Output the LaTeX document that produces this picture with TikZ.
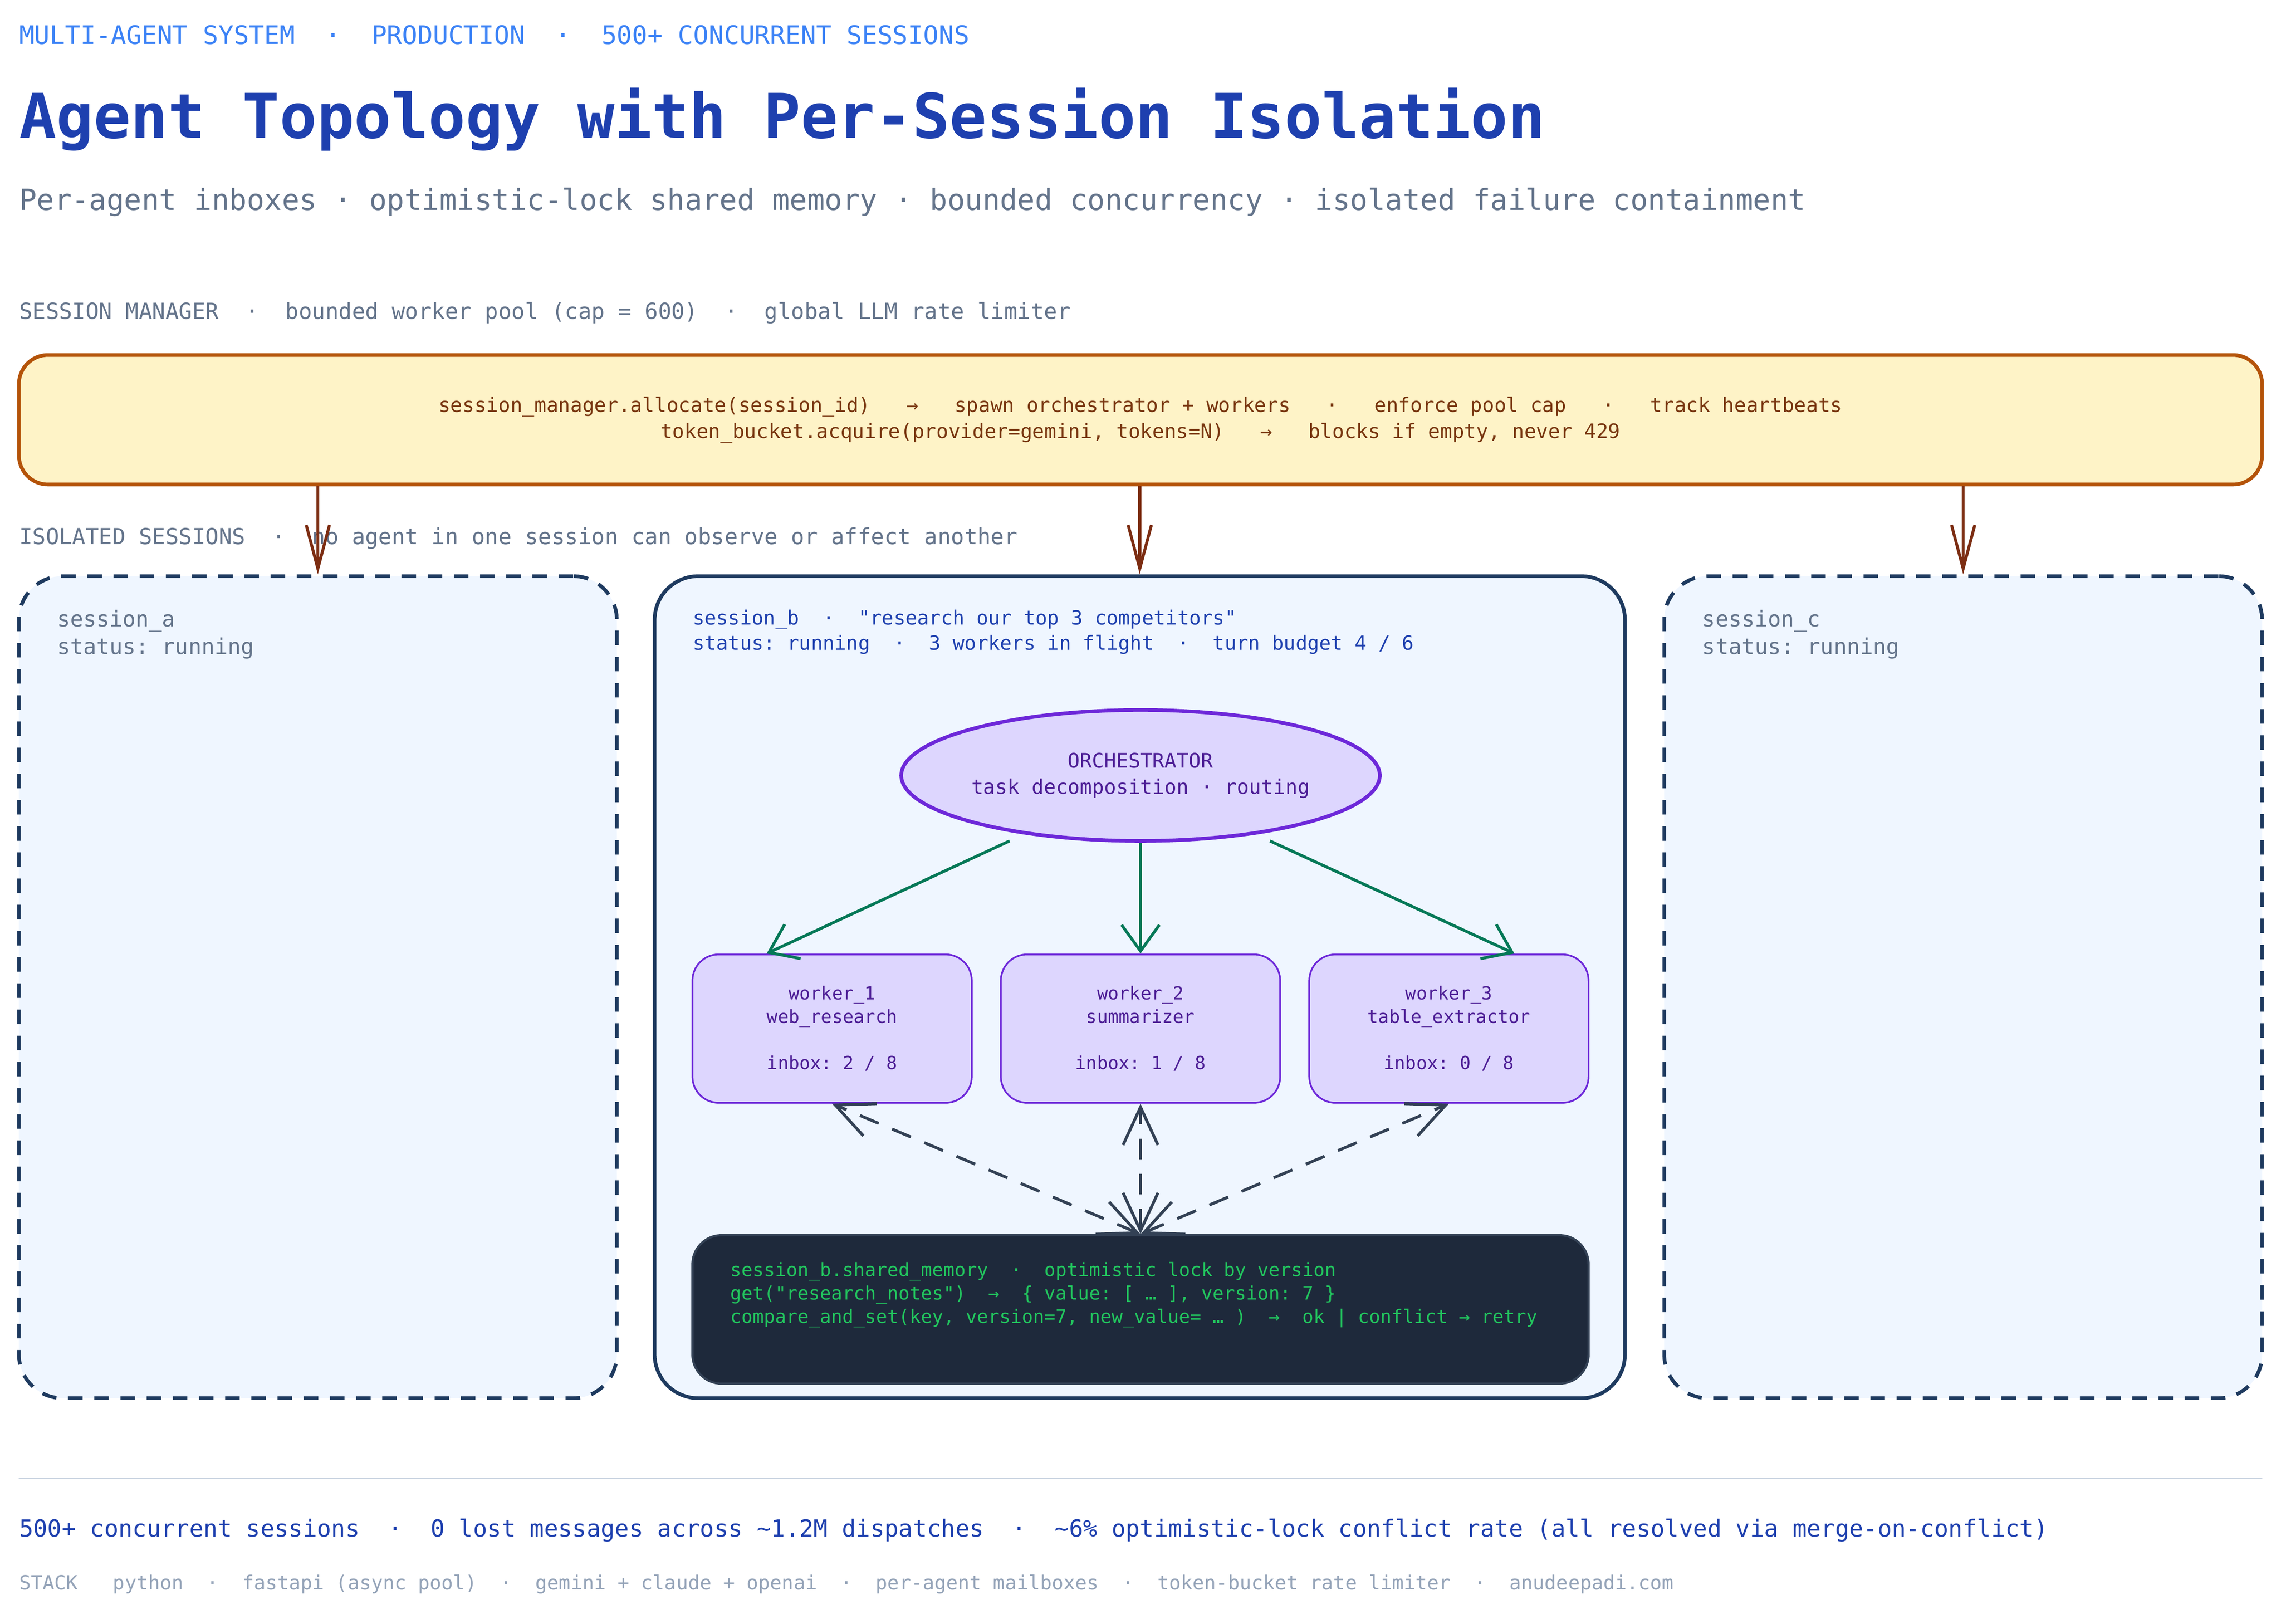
\documentclass[tikz,border=0pt]{standalone}
\usepackage{fontspec}
\setmonofont{DejaVu Sans Mono}
\usepackage{tikz}
\usetikzlibrary{arrows.meta, positioning, shapes.geometric, calc}
\definecolor{titleblue}{HTML}{1E40AF}
\definecolor{headblue}{HTML}{3B82F6}
\definecolor{slate}{HTML}{64748B}
\definecolor{mgrfill}{HTML}{FEF3C7}
\definecolor{mgrdraw}{HTML}{B45309}
\definecolor{mgrtext}{HTML}{78350F}
\definecolor{brown}{HTML}{7C2D12}
\definecolor{sessfill}{HTML}{EFF6FF}
\definecolor{sessdraw}{HTML}{1E3A5F}
\definecolor{purplefill}{HTML}{DDD6FE}
\definecolor{purpledraw}{HTML}{6D28D9}
\definecolor{purpletext}{HTML}{4C1D95}
\definecolor{flowgreen}{HTML}{047857}
\definecolor{dashgray}{HTML}{334155}
\definecolor{memfill}{HTML}{1E293B}
\definecolor{memtext}{HTML}{22C55E}
\definecolor{rulegray}{HTML}{CBD5E1}
\definecolor{stackgray}{HTML}{94A3B8}
\newcommand{\fsz}[2]{\fontsize{#1}{#2}\selectfont\ttfamily}
\tikzset{x=1pt, y=-1pt,
    textnode/.style={inner sep=0pt, anchor=west, align=left},
    manager/.style={draw=mgrdraw, fill=mgrfill, line width=2.5pt, rounded corners=20pt,
        minimum width=1542pt, minimum height=89pt, inner sep=0pt, text=mgrtext, align=center},
    session/.style={draw=sessdraw, fill=sessfill, line width=2.5pt, rounded corners=30pt,
        minimum height=565pt, inner sep=0pt},
    sessiondash/.style={session, minimum width=411pt, dash pattern=on 10pt off 8pt},
    worker/.style={draw=purpledraw, fill=purplefill, line width=1.2pt, rounded corners=18pt,
        minimum width=192pt, minimum height=102pt, inner sep=0pt, text=purpletext, align=center,
        font=\fsz{12.4}{16}},
    spawn/.style={draw=brown, line width=2pt, -{Straight Barb[length=30pt,width=16pt]}},
    route/.style={draw=flowgreen, line width=2pt, -{Straight Barb[length=18pt,width=26pt]}},
    shared/.style={draw=dashgray, line width=2pt, dash pattern=on 14pt off 10pt,
        {Straight Barb[length=26pt,width=24pt]}-{Straight Barb[length=26pt,width=24pt]}}}
\begin{document}
\begin{tikzpicture}
\useasboundingbox[fill=white] (0,0) rectangle (1568,1116);
% header
\node[textnode, text=headblue, font=\fsz{17.5}{20}] (head) at (13,24) {MULTI-AGENT SYSTEM~~·~~PRODUCTION~~·~~500+ CONCURRENT SESSIONS};
\node[textnode, text=titleblue, font=\fsz{42.5}{48}\bfseries] (title) at (13,82) {Agent Topology with Per-Session Isolation};
\node[textnode, text=slate, font=\fsz{20}{24}] (sub) at (13,139) {Per-agent inboxes · optimistic-lock shared memory · bounded concurrency · isolated failure containment};
% session manager
\node[textnode, text=slate, font=\fsz{15.2}{18}] (mgrlabel) at (13,215) {SESSION MANAGER~~·~~bounded worker pool (cap = 600)~~·~~global LLM rate limiter};
\node[manager, font=\fsz{13.7}{18}] (mgr) at (784,288.5) {session\_manager.allocate(session\_id)~~~→~~~spawn orchestrator + workers~~~·~~~enforce pool cap~~~·~~~track heartbeats\\
token\_bucket.acquire(provider=gemini, tokens=N)~~~→~~~blocks if empty, never 429};
\node[textnode, text=slate, font=\fsz{15.2}{18}] (isolabel) at (13,370) {ISOLATED SESSIONS~~·~~no agent in one session can observe or affect another};
% sessions
\node[sessiondash] (sa) at (218.5,678.5) {};
\node[session, minimum width=667pt] (sb) at (783.5,678.5) {};
\node[sessiondash] (sc) at (1349.5,678.5) {};
\node[textnode, text=slate, font=\fsz{15}{19}] (satext) at (39,436) {session\_a\\status: running};
\node[textnode, text=slate, font=\fsz{15}{19}] (sctext) at (1170,436) {session\_c\\status: running};
\node[textnode, text=titleblue, font=\fsz{13.5}{17.5}] (sbtext) at (476,434.5) {session\_b~~·~~"research our top 3 competitors"\\status: running~~·~~3 workers in flight~~·~~turn budget 4 / 6};
\draw[spawn] (mgr.south -| sa.north) -- (sa.north);
\draw[spawn] (mgr.south -| sb.north) -- (sb.north);
\draw[spawn] (mgr.south -| sc.north) -- (sc.north);
% orchestrator and workers
\node[ellipse, draw=purpledraw, fill=purplefill, line width=2.5pt, minimum width=282pt, minimum height=90pt,
    inner sep=0pt, text=purpletext, align=center, font=\fsz{13.8}{18}] (orch) at (784,533) {ORCHESTRATOR\\task decomposition · routing};
\node[worker] (w1) at (572,707) {worker\_1\\web\_research\\[16pt]inbox: 2 / 8};
\node[worker] (w2) at (784,707) {worker\_2\\summarizer\\[16pt]inbox: 1 / 8};
\node[worker] (w3) at (996,707) {worker\_3\\table\_extractor\\[16pt]inbox: 0 / 8};
\draw[route] ([shift={(-90,45)}]orch.center) -- ([xshift=-45pt]w1.north);
\draw[route] (orch.south) -- (w2.north);
\draw[route] ([shift={(89,45)}]orch.center) -- ([xshift=45pt]w3.north);
% shared memory
\node[draw=dashgray, fill=memfill, line width=1.5pt, rounded corners=20pt, minimum width=616pt,
    minimum height=102pt, inner sep=0pt] (mem) at (784,900) {};
\node[textnode, text=memtext, font=\fsz{12.8}{16}] (memtext) at (502,890) {session\_b.shared\_memory~~·~~optimistic lock by version\\
get("research\_notes")~~→~~\{ value: [ … ], version: 7 \}\\
compare\_and\_set(key, version=7, new\_value= … )~~→~~ok | conflict → retry};
\draw[shared] (mem.north) -- (w1.south);
\draw[shared] (mem.north) -- (w2.south);
\draw[shared] (mem.north) -- (w3.south);
% footer
\coordinate (rulel) at (13,1016);
\coordinate (ruler) at (1555,1016);
\draw[rulegray, line width=1pt] (rulel) -- (ruler);
\node[textnode, text=titleblue, font=\fsz{16.2}{20}] (stats) at (13,1052) {500+ concurrent sessions~~·~~0 lost messages across \textasciitilde1.2M dispatches~~·~~\textasciitilde6\% optimistic-lock conflict rate (all resolved via merge-on-conflict)};
\node[textnode, text=stackgray, font=\fsz{13.4}{16}] (stack) at (13,1089) {STACK~~~python~~·~~fastapi (async pool)~~·~~gemini + claude + openai~~·~~per-agent mailboxes~~·~~token-bucket rate limiter~~·~~anudeepadi.com};
\end{tikzpicture}
\end{document}
